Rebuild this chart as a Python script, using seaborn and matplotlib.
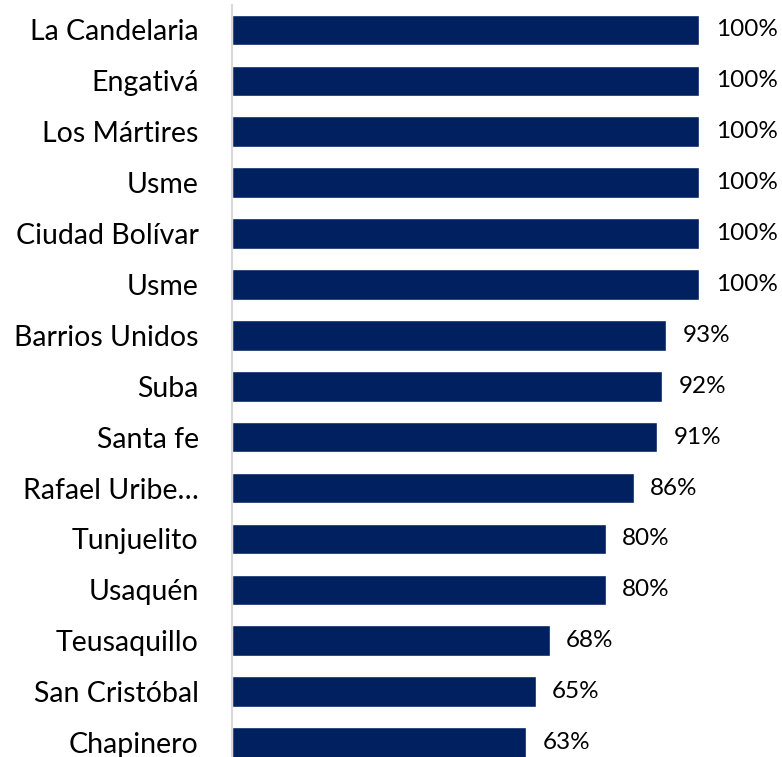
import matplotlib
matplotlib.use("Agg")
import matplotlib.pyplot as plt
import seaborn as sns
import pandas as pd

localidades = ["La Candelaria", "Engativá", "Los Mártires", "Usme", "Ciudad Bolívar",
               "Usme", "Barrios Unidos", "Suba", "Santa fe", "Rafael Uribe…",
               "Tunjuelito", "Usaquén", "Teusaquillo", "San Cristóbal", "Chapinero"]
porcentajes = [100, 100, 100, 100, 100, 100, 93, 92, 91, 86, 80, 80, 68, 65, 63]

sns.set_theme(style="white")
plt.rcParams["font.family"] = ["Lato", "DejaVu Sans"]

df = pd.DataFrame({"id": [f"r{i}" for i in range(len(localidades))],
                   "valor": porcentajes})

fig = plt.figure(figsize=(7.82, 7.57), dpi=100)
ax = fig.add_axes([232/782, 1 - 768/757, 537/782, 763.5/757])

sns.barplot(data=df, x="valor", y="id", order=df["id"].tolist(), color="#002060",
            saturation=1, width=0.6, ax=ax, orient="h")

ax.set_xlim(0, 115)
ax.set_ylim(14.5, -0.5)
ax.set_yticks(range(len(localidades)))
ax.set_yticklabels(localidades, fontsize=20.5, color="#000000")
ax.tick_params(axis="y", length=0, pad=24)
ax.set_xticks([])
ax.set_xlabel("")
ax.set_ylabel("")
for s in ["top", "right", "bottom"]:
    ax.spines[s].set_visible(False)
ax.spines["left"].set_color("#d9d9d9")
ax.spines["left"].set_linewidth(1.5)

for cont in ax.containers:
    ax.bar_label(cont, labels=[f"{v:.0f}%" for v in porcentajes], padding=12,
                 fontsize=17.5, color="#000000")

fig.savefig("out.png", dpi=100)
